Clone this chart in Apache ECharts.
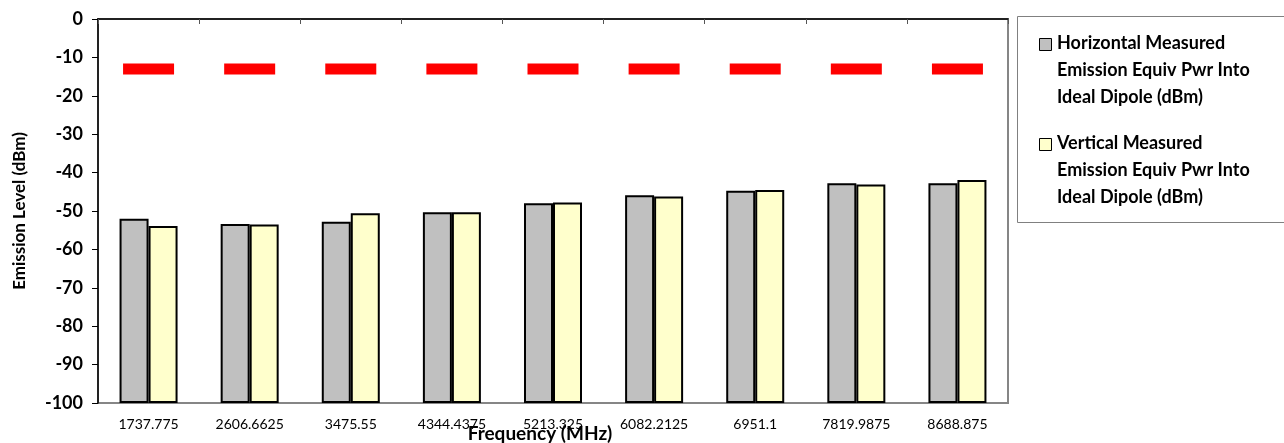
<!DOCTYPE html>
<html>
<head>
<meta charset="utf-8">
<script src="https://cdn.jsdelivr.net/npm/echarts@6/dist/echarts.min.js"></script>
<style>
  html, body { margin: 0; padding: 0; background: #fff; }
  #chart { width: 1284px; height: 443px; }
</style>
</head>
<body>
<div id="chart"></div>
<script>
// frequencies (MHz) on the category axis
const freqs = ['1737.775', '2606.6625', '3475.55', '4344.4375', '5213.325', '6082.2125', '6951.1', '7819.9875', '8688.875'];
// measured emission, dBm
const horizontal = [-52.0, -53.4, -52.8, -50.3, -48.0, -45.9, -44.7, -42.8, -42.8];
const vertical = [-53.9, -53.5, -50.6, -50.3, -47.8, -46.2, -44.5, -43.1, -41.9];
// limit line, dBm
const limit = [-13, -13, -13, -13, -13, -13, -13, -13, -13];

const hName = 'Horizontal Measured\nEmission Equiv Pwr Into\nIdeal Dipole (dBm)';
const vName = 'Vertical Measured\nEmission Equiv Pwr Into\nIdeal Dipole (dBm)';

const FONT = 'Lato';
const chart = echarts.init(document.getElementById('chart'), null, { renderer: 'canvas' });

chart.setOption({
  animation: false,
  backgroundColor: '#fff',
  grid: {
    left: 98, right: 276, top: 19, bottom: 40,
    show: true, borderColor: '#868686', borderWidth: 2,
    containLabel: false,
    outerBoundsMode: 'none'
  },
  xAxis: {
    type: 'category',
    data: freqs,
    boundaryGap: true,
    name: 'Frequency (MHz)',
    nameLocation: 'middle',
    nameGap: 21,
    nameMoveOverlap: false,
    nameTextStyle: { fontFamily: FONT, fontWeight: 'bold', fontSize: 19, color: '#000', padding: [0, 26, 0, 0] },
    axisLine: { lineStyle: { color: '#000', width: 1.5 } },
    axisTick: { show: true, alignWithLabel: false, length: 5, lineStyle: { color: '#555' } },
    axisLabel: { interval: 0, margin: 14, fontFamily: FONT, fontSize: 14, color: '#000' },
    splitLine: { show: false }
  },
  yAxis: {
    type: 'value',
    min: -100, max: 0, interval: 10,
    startValue: -100,
    name: 'Emission Level (dBm)',
    nameLocation: 'middle',
    nameGap: 70,
    nameMoveOverlap: false,
    nameTextStyle: { fontFamily: FONT, fontWeight: 'bold', fontSize: 17, color: '#000' },
    axisLine: { show: true, lineStyle: { color: '#000', width: 1.5 } },
    axisTick: { show: true, length: 6, lineStyle: { color: '#000' } },
    axisLabel: { margin: 15, fontFamily: FONT, fontWeight: 'bold', fontSize: 18, color: '#000' },
    splitLine: { show: false }
  },
  series: [
    {
      name: hName, type: 'bar', data: horizontal,
      barWidth: 29, barGap: '0%',
      itemStyle: { color: '#C0C0C0', borderColor: '#000', borderWidth: 2 }
    },
    {
      name: vName, type: 'bar', data: vertical,
      barWidth: 29, barGap: '0%',
      itemStyle: { color: '#FFFFCC', borderColor: '#000', borderWidth: 2 }
    },
    {
      name: 'Limit', type: 'scatter', data: limit,
      symbol: 'rect', symbolSize: [51, 11],
      itemStyle: { color: '#FF0000', opacity: 1 },
      z: 5
    }
  ],
  // legend box drawn by hand so the swatch sits on the first text line
  graphic: [
    { type: 'rect', left: 1017, top: 16, shape: { width: 300, height: 206 },
      style: { fill: '#fff', stroke: '#808080', lineWidth: 1 }, silent: true },
    { type: 'rect', left: 1039, top: 38, shape: { width: 12, height: 12 },
      style: { fill: '#C0C0C0', stroke: '#000', lineWidth: 1 }, silent: true },
    { type: 'text', left: 1057, top: 30,
      style: { text: hName, font: 'bold 18px ' + FONT, lineHeight: 27, fill: '#000' } },
    { type: 'rect', left: 1039, top: 138, shape: { width: 12, height: 12 },
      style: { fill: '#FFFFCC', stroke: '#000', lineWidth: 1 }, silent: true },
    { type: 'text', left: 1057, top: 130,
      style: { text: vName, font: 'bold 18px ' + FONT, lineHeight: 27, fill: '#000' } }
  ]
});
window.addEventListener('resize', () => chart.resize());
</script>
</body>
</html>
